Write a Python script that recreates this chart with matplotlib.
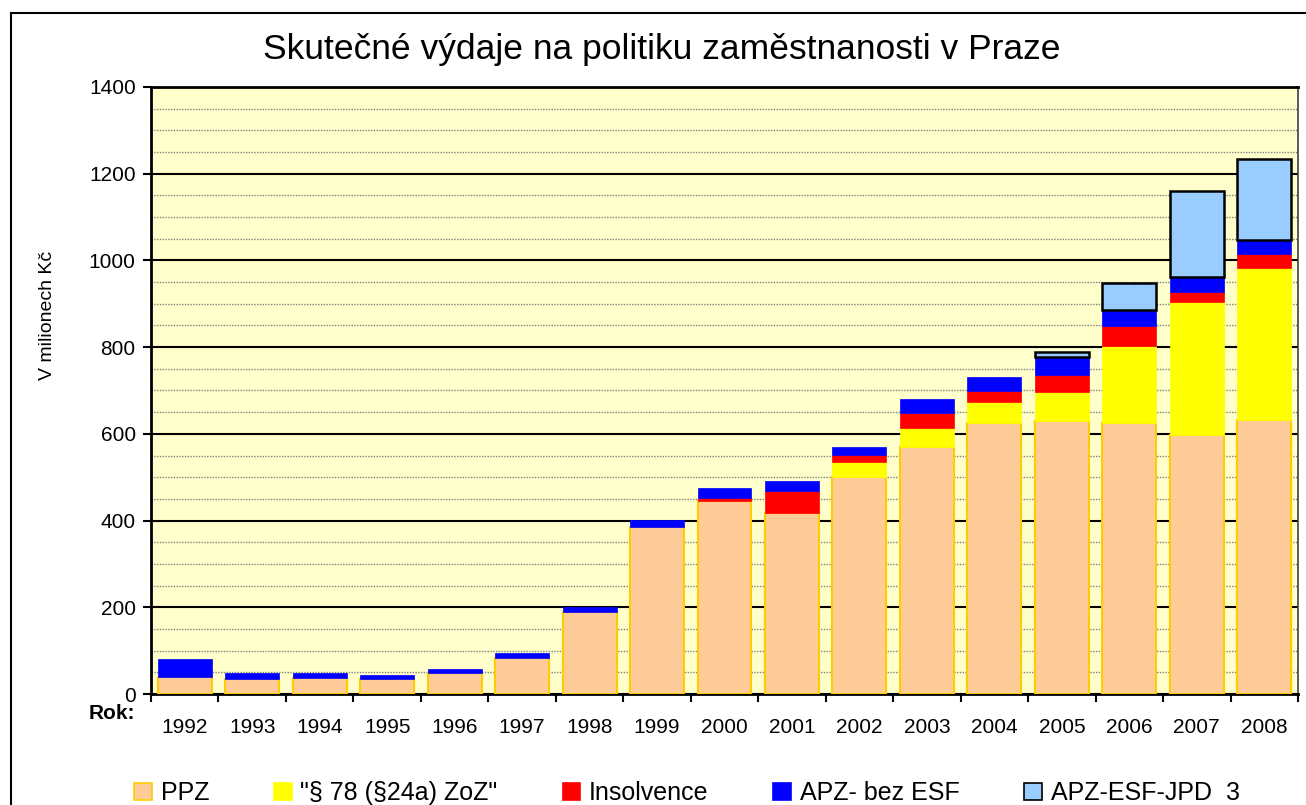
import numpy as np
import matplotlib.pyplot as plt
from matplotlib.lines import Line2D
from matplotlib.ticker import MultipleLocator

plt.rcParams['font.family'] = ['Liberation Sans', 'DejaVu Sans']

# Skutečné výdaje (mil. Kč) podle roku
years = ['1992', '1993', '1994', '1995', '1996', '1997', '1998', '1999', '2000',
         '2001', '2002', '2003', '2004', '2005', '2006', '2007', '2008']
ppz = [40, 34, 38, 34, 49, 84, 190, 386, 445, 417, 500, 570, 626, 630, 625, 598, 633]
par78 = [0, 0, 0, 0, 0, 0, 0, 0, 0, 0, 35, 43, 47, 66, 177, 305, 349]
insolvence = [0, 0, 0, 0, 0, 0, 0, 0, 8, 51, 16, 36, 27, 39, 47, 24, 32]
apz_bez_esf = [40, 14, 10, 10, 8, 11, 11, 15, 23, 23, 19, 31, 30, 42, 37, 34, 33]
apz_esf = [0, 0, 0, 0, 0, 0, 0, 0, 0, 0, 0, 0, 0, 11, 63, 199, 188]

series = [
    ('PPZ', ppz, '#FFCC99', '#FFCC00', 1.5),
    ('"§ 78 (§24a) ZoZ"', par78, '#FFFF00', '#FFFF00', 0.5),
    ('Insolvence', insolvence, '#FF0000', '#FF0000', 0.5),
    ('APZ- bez ESF', apz_bez_esf, '#0000FF', '#0000FF', 0.5),
    ('APZ-ESF-JPD  3', apz_esf, '#99CCFF', '#000000', 1.8),
]

fig = plt.figure(figsize=(13.06, 8.05), dpi=100)
ax = fig.add_axes([151 / 1306, 1 - 694 / 805, (1298 - 151) / 1306, (694 - 87) / 805])
ax.set_facecolor('#FFFFCC')

x = np.arange(len(years))
bottom = np.zeros(len(years))
handles = []
for name, vals, fc, ec, lw in series:
    vals = np.array(vals, dtype=float)
    keep = vals > 0
    ax.bar(x[keep], vals[keep], width=0.8, bottom=bottom[keep], color=fc,
           edgecolor=ec, linewidth=lw, zorder=3)
    bottom += vals
    handles.append(plt.Rectangle((0, 0), 1, 1, facecolor=fc, edgecolor=ec, linewidth=1.2))

ax.set_xlim(-0.5, len(years) - 0.5)
ax.set_ylim(0, 1400)
ax.yaxis.set_major_locator(MultipleLocator(200))
ax.yaxis.set_minor_locator(MultipleLocator(50))
ax.set_axisbelow(True)
ax.grid(which='major', axis='y', color='black', linewidth=1.5, zorder=1)
ax.grid(which='minor', axis='y', color='#808080', linewidth=1.0, linestyle=(0, (1, 1)), zorder=1)
ax.tick_params(axis='y', which='major', direction='out', length=6, width=1.5, labelsize=15, pad=5)
ax.tick_params(axis='y', which='minor', length=0)

ax.set_xticks(x)
ax.set_xticklabels(years)
ax.set_xticks(np.arange(-0.5, len(years)), minor=True)
ax.tick_params(axis='x', which='major', length=0, labelsize=15, pad=17)
ax.tick_params(axis='x', which='minor', direction='out', length=6, width=1.5)

for side in ['left', 'bottom', 'top']:
    ax.spines[side].set_linewidth(2)
    ax.spines[side].set_color('black')
ax.spines['right'].set_linewidth(1.2)
ax.spines['right'].set_color('#404040')

ax.set_ylabel('V milionech Kč', fontsize=14)
ax.yaxis.set_label_coords(-0.083, 0.623)
fig.text(135 / 1306, 1 - 713 / 805, 'Rok:', fontsize=15, fontweight='bold',
         ha='right', va='center')

fig.text(0.507, 1 - 49 / 805, 'Skutečné výdaje na politiku zaměstnanosti v Praze',
         fontsize=25.5, ha='center', va='center')

fig.legend(handles, [s[0] for s in series], loc='center', ncol=5,
           bbox_to_anchor=(0.526, 1 - 793 / 805), frameon=False, fontsize=18,
           handlelength=0.7, handleheight=0.7, handletextpad=0.35, columnspacing=2.6)

# rámeček kolem celého grafu
fig.add_artist(Line2D([11 / 1306, 11 / 1306], [0, 1 - 13 / 805], color='black', linewidth=1.5))
fig.add_artist(Line2D([11 / 1306, 1], [1 - 13 / 805, 1 - 13 / 805], color='black', linewidth=1.5))

fig.savefig('out.png', dpi=100)
